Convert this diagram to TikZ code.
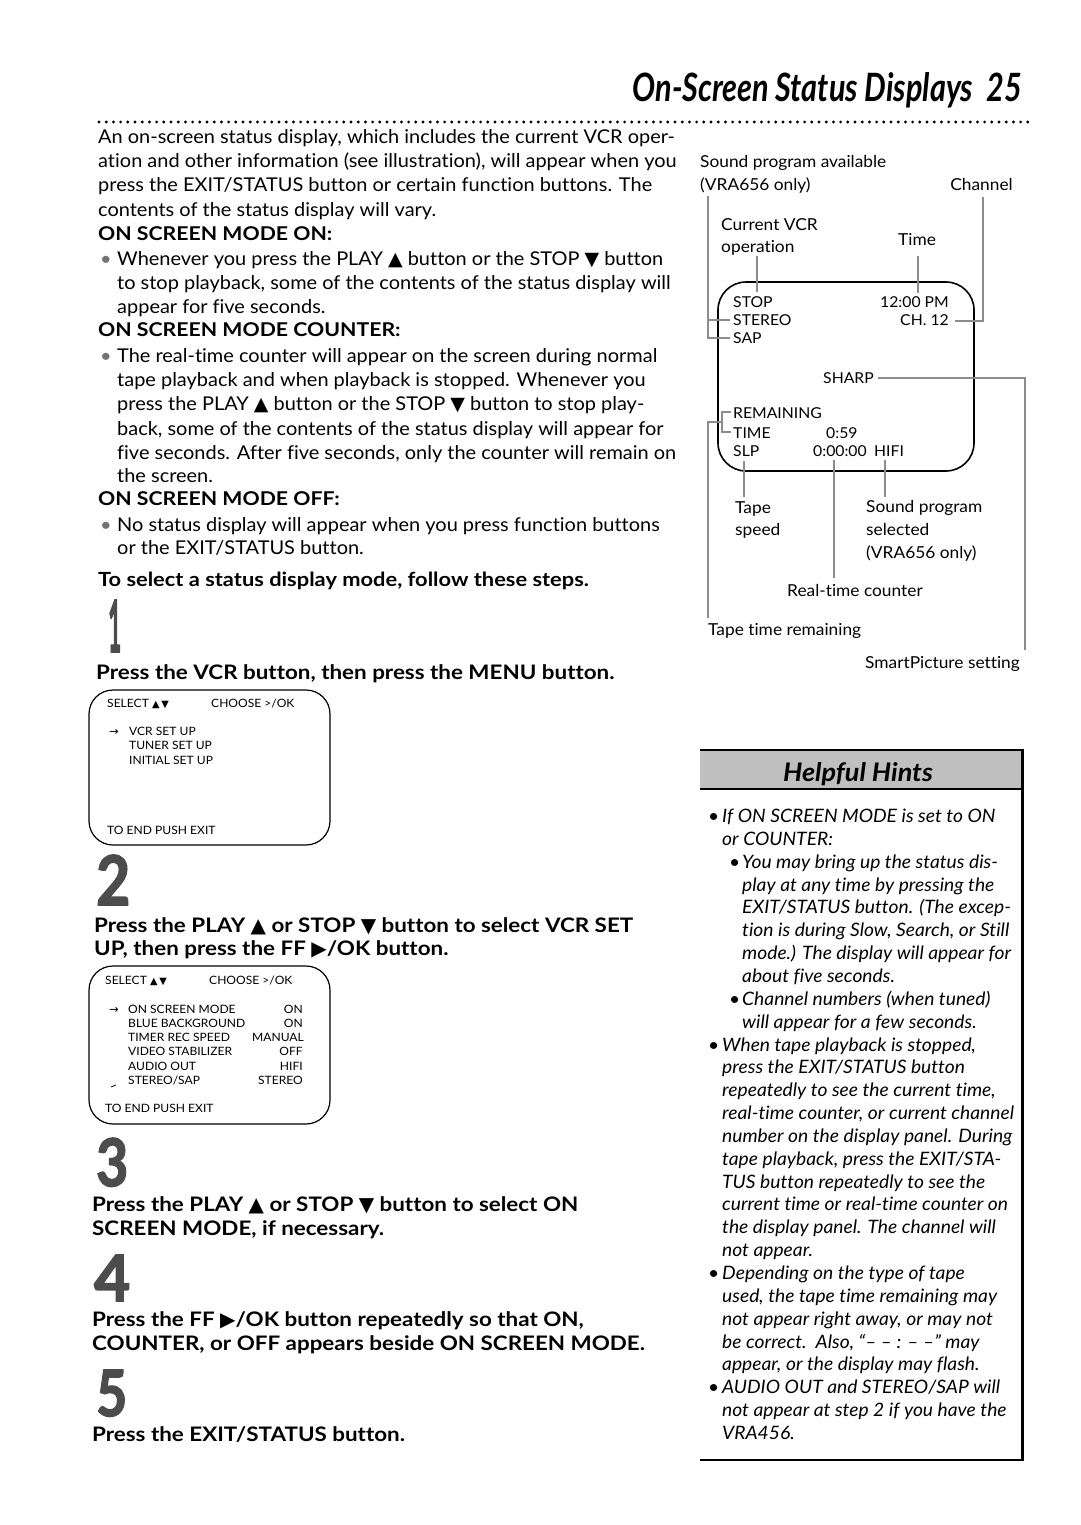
\documentclass[tikz,border=0pt]{standalone}
\usepackage{fontspec}
\setmainfont{Lato}[Ligatures=NoCommon, FakeStretch=1.05]
\newfontfamily\boldf{Lato}[Ligatures=NoCommon, FakeStretch=1.12]
\newfontfamily\itf{Lato}[Ligatures=NoCommon, FakeStretch=1.04]
\newfontfamily\heavyf{Lato}[FakeBold=2.5]
\newfontfamily\symf{DejaVu Sans}
\newcommand{\upT}{{\symf ▲}}
\newcommand{\dnT}{{\symf ▼}}
\newcommand{\rtT}{{\symf ▶}}
\newcommand{\upS}{\scalebox{0.85}{\symf ▲}}
\newcommand{\dnS}{\scalebox{0.85}{\symf ▼}}
\begin{document}
\begin{tikzpicture}[x=1pt,y=-1pt,
 bt/.style={anchor=base west, inner sep=0pt, font=\fontsize{19}{23}\selectfont},
 bb/.style={anchor=base west, inner sep=0pt, font=\fontsize{19}{23}\selectfont\boldf\bfseries},
 sb/.style={anchor=base west, inner sep=0pt, font=\fontsize{20}{24}\selectfont\boldf\bfseries},
 ht/.style={anchor=base west, inner sep=0pt, font=\fontsize{18.5}{22}\selectfont\itf\itshape},
 lb/.style={anchor=base west, inner sep=0pt, font=\fontsize{16.5}{20}\selectfont},
 sc/.style={anchor=base west, inner sep=0pt, font=\fontsize{15}{18}\selectfont},
 mn/.style={anchor=base west, inner sep=0pt, font=\fontsize{11.5}{13}\selectfont},
 lead/.style={draw=black!45, line width=2.6pt},
 scrn/.style={draw=black, line width=1.6pt, rounded corners=28pt},
 menubox/.style={draw=black, line width=1.2pt, rounded corners=24pt},
 stepnum/.style={anchor=base west, inner sep=0pt, text=black!70, font=\heavyf\bfseries},
 dotrule/.style={line width=3.2pt, line cap=round, dash pattern=on 0pt off 7.2pt}]
\useasboundingbox (0,0) rectangle (1080,1525);
\fill[white] (0,0) rectangle (1080,1525);

% title
\node[anchor=base east, inner sep=0pt] (title) at (1022,102)
  {\resizebox{389pt}{29pt}{\bfseries\itshape On-Screen Status Displays\hspace{0.45em}25}};
\coordinate (dl) at (99,122);
\coordinate (dr) at (1030,122);
\draw[dotrule] (dl) -- (dr);

% body text
\node[bt] (b1) at (98,144) {An on-screen status display, which includes the current VCR oper-};
\node[bt] (b2) at (98,168) {ation and other information (see illustration), will appear when you};
\node[bt] (b3) at (98,192) {press the EXIT/STATUS button or certain function buttons. The};
\node[bt] (b4) at (98,216) {contents of the status display will vary.};
\node[bb] (h1) at (98,240) {ON SCREEN MODE ON:};
\node[bt,text=black!55] (u1) at (100,265) {•};
\node[bt] (b5) at (117,265) {Whenever you press the PLAY \upT{} button or the STOP \dnT{} button};
\node[bt] (b6) at (117,289) {to stop playback, some of the contents of the status display will};
\node[bt] (b7) at (117,313) {appear for five seconds.};
\node[bb] (h2) at (98,336) {ON SCREEN MODE COUNTER:};
\node[bt,text=black!55] (u2) at (100,362) {•};
\node[bt] (b8) at (117,362) {The real-time counter will appear on the screen during normal};
\node[bt] (b9) at (117,386) {tape playback and when playback is stopped. Whenever you};
\node[bt] (b10) at (117,410) {press the PLAY \upT{} button or the STOP \dnT{} button to stop play-};
\node[bt] (b11) at (117,435) {back, some of the contents of the status display will appear for};
\node[bt] (b12) at (117,459) {five seconds. After five seconds, only the counter will remain on};
\node[bt] (b13) at (117,482) {the screen.};
\node[bb] (h3) at (98,505) {ON SCREEN MODE OFF:};
\node[bt,text=black!55] (u3) at (100,531) {•};
\node[bt] (b14) at (117,531) {No status display will appear when you press function buttons};
\node[bt] (b15) at (117,554) {or the EXIT/STATUS button.};
\node[bb,font=\fontsize{19.5}{23}\selectfont\boldf\bfseries] (h4) at (98,586) {To select a status display mode, follow these steps.};

% steps
\node[stepnum] (n1) at (108,652) {\resizebox{13pt}{52pt}{1}};
\node[sb] (s1) at (96,679) {Press the VCR button, then press the MENU button.};
\node[stepnum] (n2) at (96,905) {\resizebox{34pt}{50pt}{2}};
\node[sb] (s2a) at (94,932) {Press the PLAY \upT{} or STOP \dnT{} button to select VCR SET};
\node[sb] (s2b) at (94,955) {UP, then press the FF \rtT/OK button.};
\node[stepnum] (n3) at (96,1186) {\resizebox{32pt}{48pt}{3}};
\node[sb] (s3a) at (92,1211) {Press the PLAY \upT{} or STOP \dnT{} button to select ON};
\node[sb] (s3b) at (92,1235) {SCREEN MODE, if necessary.};
\node[stepnum] (n4) at (94,1301) {\resizebox{36pt}{46pt}{4}};
\node[sb] (s4a) at (92,1326) {Press the FF \rtT/OK button repeatedly so that ON,};
\node[sb] (s4b) at (92,1350) {COUNTER, or OFF appears beside ON SCREEN MODE.};
\node[stepnum] (n5) at (96,1416) {\resizebox{31pt}{46pt}{5}};
\node[sb] (s5) at (92,1441) {Press the EXIT/STATUS button.};

% menu 1
\draw[menubox] (89,690) rectangle (330,845);
\node[mn] (m1a) at (107,707) {SELECT \upS\,\dnS};
\node[mn] (m1b) at (211,707) {CHOOSE >/OK};
\node[mn] (m1ar) at (109,735) {\symf →};
\node[mn] (m1c) at (129,735) {VCR SET UP};
\node[mn] (m1d) at (129,749) {TUNER SET UP};
\node[mn] (m1e) at (129,764) {INITIAL SET UP};
\node[mn] (m1f) at (107,834) {TO END PUSH EXIT};

% menu 2
\draw[menubox] (89,966) rectangle (330,1124);
\node[mn] (m2a) at (105,984) {SELECT \upS\,\dnS};
\node[mn] (m2b) at (209,984) {CHOOSE >/OK};
\node[mn] (m2ar) at (109,1013) {\symf →};
\node[mn] (r1) at (128,1013) {ON SCREEN MODE};
\node[mn] (r2) at (128,1027) {BLUE BACKGROUND};
\node[mn] (r3) at (128,1041) {TIMER REC SPEED};
\node[mn] (r4) at (128,1055) {VIDEO STABILIZER};
\node[mn] (r5) at (128,1070) {AUDIO OUT};
\node[mn] (r6) at (128,1084) {STEREO/SAP};
\node[mn,anchor=base east] (v1) at (303,1013) {ON};
\node[mn,anchor=base east] (v2) at (303,1027) {ON};
\node[mn,anchor=base east] (v3) at (304,1041) {MANUAL};
\node[mn,anchor=base east] (v4) at (303,1055) {OFF};
\node[mn,anchor=base east] (v5) at (303,1070) {HIFI};
\node[mn,anchor=base east] (v6) at (303,1084) {STEREO};
\coordinate (tk1) at (111,1087);
\coordinate (tk2) at (116,1085);
\draw[line width=0.8pt] (tk1) -- (tk2);
\node[mn] (m2f) at (105,1112) {TO END PUSH EXIT};

% status display illustration
\node[lb] (lsa) at (700,168) {Sound program available};
\node[lb] (lsb) at (700,191) {(VRA656 only)};
\node[lb,anchor=base east] (lch) at (1013,191) {Channel};
\node[lb] (lop1) at (721,230) {Current VCR};
\node[lb] (lop2) at (721,252) {operation};
\node[lb] (ltm) at (898,245) {Time};
\draw[scrn] (718,282) rectangle (974,471);
\node[sc] (stop) at (733,307) {STOP};
\node[sc] (stereo) at (733,325) {STEREO};
\node[sc] (sap) at (733,343) {SAP};
\node[sc,anchor=base east] (clock) at (949,307) {12:00 PM};
\node[sc,anchor=base east] (ch) at (949,325) {CH. 12};
\node[sc] (sharp) at (823,383) {SHARP};
\node[sc] (rem) at (733,418) {REMAINING};
\node[sc] (tim) at (733,438) {TIME};
\node[sc] (t59) at (826,438) {0:59};
\node[sc] (slp) at (733,456) {SLP};
\node[sc] (ctr) at (813,456) {0:00:00};
\node[sc] (hifi) at (874,456) {HIFI};
\node[lb] (ltp1) at (735,513) {Tape};
\node[lb] (ltp2) at (735,535) {speed};
\node[lb] (lsp1) at (866,512) {Sound program};
\node[lb] (lsp2) at (866,535) {selected};
\node[lb] (lsp3) at (866,558) {(VRA656 only)};
\node[lb] (lrc) at (787,596) {Real-time counter};
\node[lb] (ltr) at (708,635) {Tape time remaining};
\node[lb,anchor=base east] (lsm) at (1020,668) {SmartPicture setting};

% leaders
\coordinate (op1) at (757,256); \coordinate (op2) at (757,292);
\draw[lead] (op1) -- (op2);
\coordinate (tm1) at (918,256); \coordinate (tm2) at (918,293);
\draw[lead] (tm1) -- (tm2);
\coordinate (ch1) at (955,321); \coordinate (ch2) at (983,321); \coordinate (ch3) at (983,197);
\draw[lead] (ch1) -- (ch2) -- (ch3);
\coordinate (sa1) at (708,196); \coordinate (sa2) at (708,338); \coordinate (sa3) at (730,338);
\coordinate (sa4) at (708,320); \coordinate (sa5) at (730,320);
\draw[lead] (sa1) -- (sa2) -- (sa3);
\draw[lead] (sa4) -- (sa5);
\coordinate (sh1) at (878,378); \coordinate (sh2) at (1025,378); \coordinate (sh3) at (1025,650);
\draw[lead] (sh1) -- (sh2) -- (sh3);
\coordinate (rb1) at (731,412); \coordinate (rb2) at (722,412); \coordinate (rb3) at (722,432); \coordinate (rb4) at (731,432);
\draw[lead] (rb1) -- (rb2) -- (rb3) -- (rb4);
\coordinate (tr1) at (722,422); \coordinate (tr2) at (708,422); \coordinate (tr3) at (708,618);
\draw[lead] (tr1) -- (tr2) -- (tr3);
\coordinate (sl1) at (744,461); \coordinate (sl2) at (744,497);
\draw[lead] (sl1) -- (sl2);
\coordinate (rc1) at (834,460); \coordinate (rc2) at (834,578);
\draw[lead] (rc1) -- (rc2);
\coordinate (hf1) at (885,460); \coordinate (hf2) at (885,497);
\draw[lead] (hf1) -- (hf2);

% helpful hints box
\fill[black!25] (700,750) rectangle (1022,789);
\draw[line width=2pt] (700,750) -- (1022,750);
\draw[line width=2.6pt] (700,789) -- (1022,789);
\draw[line width=3pt] (1022,749) -- (1022,1461);
\draw[line width=2.6pt] (700,1460) -- (1023,1460);
\node[anchor=base, inner sep=0pt] (hh) at (858,781) {\resizebox{150pt}{19pt}{\bfseries\itshape Helpful Hints}};

\node[ht] (k0b) at (708,822) {•};
\node[ht] (k0) at (722,822) {If ON SCREEN MODE is set to ON};
\node[ht] (k1) at (722,845) {or COUNTER:};
\node[ht] (k2b) at (729,868) {•};
\node[ht] (k2) at (742,868) {You may bring up the status dis-};
\node[ht] (k3) at (742,891) {play at any time by pressing the};
\node[ht] (k4) at (742,913) {EXIT/STATUS button. (The excep-};
\node[ht] (k5) at (742,936) {tion is during Slow, Search, or Still};
\node[ht] (k6) at (742,959) {mode.) The display will appear for};
\node[ht] (k7) at (742,982) {about five seconds.};
\node[ht] (k8b) at (729,1005) {•};
\node[ht] (k8) at (742,1005) {Channel numbers (when tuned)};
\node[ht] (k9) at (742,1028) {will appear for a few seconds.};
\node[ht] (k10b) at (708,1051) {•};
\node[ht] (k10) at (722,1051) {When tape playback is stopped,};
\node[ht] (k11) at (722,1073) {press the EXIT/STATUS button};
\node[ht] (k12) at (722,1096) {repeatedly to see the current time,};
\node[ht] (k13) at (722,1119) {real-time counter, or current channel};
\node[ht] (k14) at (722,1142) {number on the display panel. During};
\node[ht] (k15) at (722,1165) {tape playback, press the EXIT/STA-};
\node[ht] (k16) at (722,1188) {TUS button repeatedly to see the};
\node[ht] (k17) at (722,1210) {current time or real-time counter on};
\node[ht] (k18) at (722,1233) {the display panel. The channel will};
\node[ht] (k19) at (722,1256) {not appear.};
\node[ht] (k20b) at (708,1279) {•};
\node[ht] (k20) at (722,1279) {Depending on the type of tape};
\node[ht] (k21) at (722,1302) {used, the tape time remaining may};
\node[ht] (k22) at (722,1325) {not appear right away, or may not};
\node[ht] (k23) at (722,1348) {be correct.\ \ Also, “– – : – –” may};
\node[ht] (k24) at (722,1370) {appear, or the display may flash.};
\node[ht] (k25b) at (708,1393) {•};
\node[ht] (k25) at (722,1393) {AUDIO OUT and STEREO/SAP will};
\node[ht] (k26) at (722,1416) {not appear at step 2 if you have the};
\node[ht] (k27) at (722,1439) {VRA456.};
\end{tikzpicture}
\end{document}
